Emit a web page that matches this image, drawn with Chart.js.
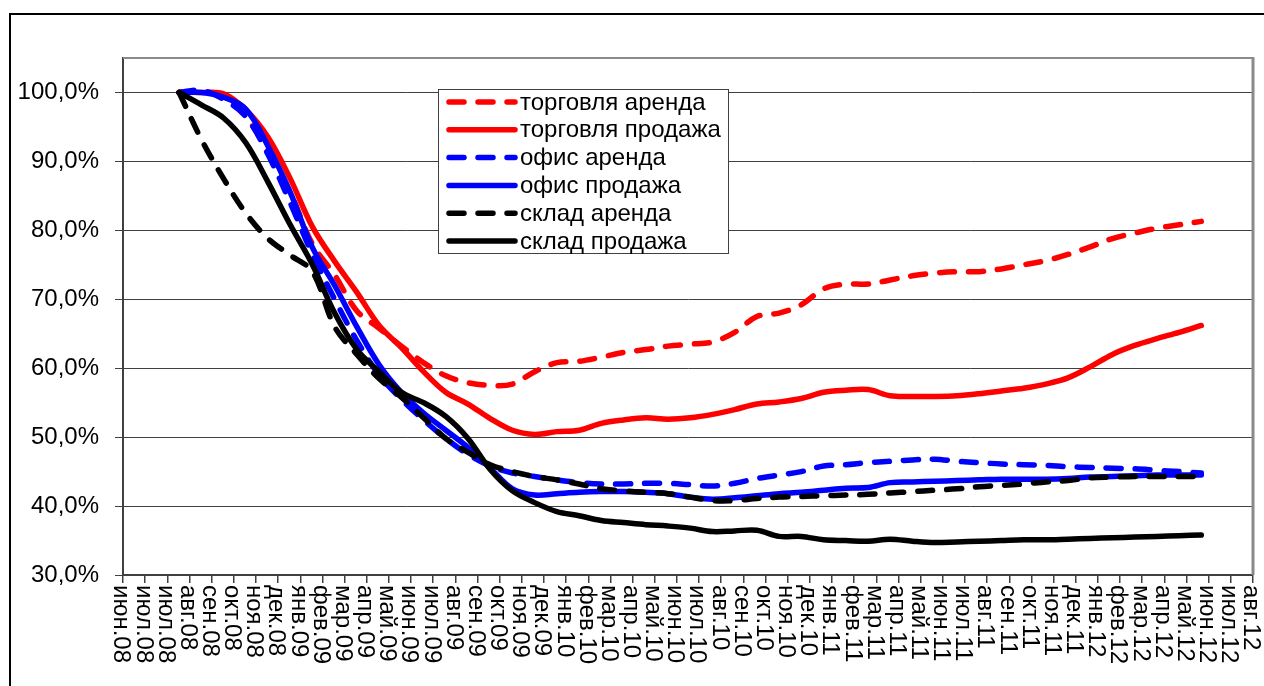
<!DOCTYPE html>
<html><head><meta charset="utf-8">
<script src="https://cdn.jsdelivr.net/npm/chart.js@4.4.1/dist/chart.umd.min.js"></script>
<style>html,body{margin:0;padding:0;background:#fff;overflow:hidden}canvas{display:block}</style>
</head><body>
<canvas id="c" width="1264" height="686"></canvas>
<script>
// x-axis tick labels (date axis, one tick every 30 days from 01.06.2008)
const tickLabels = ['июн.08','июл.08','июл.08','авг.08','сен.08','окт.08','ноя.08','дек.08','янв.09','фев.09','мар.09','апр.09','май.09','июн.09','июл.09','авг.09','сен.09','окт.09','ноя.09','дек.09','янв.10','фев.10','мар.10','апр.10','май.10','июн.10','июл.10','авг.10','сен.10','окт.10','ноя.10','дек.10','янв.11','фев.11','мар.11','апр.11','май.11','июн.11','июл.11','авг.11','сен.11','окт.11','ноя.11','дек.11','янв.12','фев.12','мар.12','апр.12','май.12','июн.12','июл.12','авг.12'];
const axisStartDate = '2008-06-01';
const tickStepDays = 30;
// observation period (monthly observations, авг.08 .. июн.12)
const obsFirstDate = '2008-08-16';
const obsLastDate = '2012-05-31';
const yTicks = [30, 40, 50, 60, 70, 80, 90, 100];
const seriesNames = ['торговля аренда','торговля продажа','офис аренда','офис продажа','склад аренда','склад продажа'];

const torgArenda = [100,100,99.5,96.5,91.5,85.5,78,73.5,68.3,65.8,63.2,60.8,58.9,57.9,57.5,57.7,59.5,60.8,61,61.6,62.3,62.7,63.2,63.5,63.8,65.2,67.5,68,69.2,71.5,72.2,72.2,72.8,73.4,73.8,74,74,74.4,75,75.6,76.5,77.6,78.8,79.6,80.3,80.8,81.3];
const torgProdazha = [100,100,99.8,97.5,93.5,87.5,80.5,75.5,71,66.2,63,59.5,56.5,54.8,52.7,51,50.4,50.8,51,52,52.5,52.8,52.6,52.8,53.3,54,54.8,55.1,55.6,56.5,56.8,56.9,56,55.9,55.9,56,56.3,56.7,57.1,57.7,58.6,60.2,62,63.3,64.3,65.2,66.2];
const ofisArenda = [100,100.3,99,96.5,91,84,76.5,70,64,59,55.5,52.5,49.8,47.5,45.8,44.8,44.3,43.8,43.4,43.2,43.2,43.3,43.3,43.1,42.9,43.3,44,44.5,45,45.8,46,46.3,46.5,46.7,46.8,46.5,46.3,46.1,46,45.9,45.7,45.6,45.5,45.4,45.2,45,44.8];
const ofisProdazha = [100,100,99.3,97.6,92.2,85.5,77.5,72,66,60.5,56.5,53.5,51,48.5,45.5,42.5,41.6,41.8,42,42.1,42.1,42,41.8,41.3,41,41.2,41.5,41.8,42,42.3,42.6,42.7,43.4,43.5,43.6,43.7,43.8,43.9,43.9,43.9,44,44.2,44.3,44.4,44.5,44.5,44.5];
const skladArenda = [100,93.2,87.5,82.5,78.8,76.4,74,66,62,58.5,55.8,52.8,49.8,47.8,46,45,44.3,43.8,43.2,42.5,42.2,42,41.8,41.3,40.8,40.8,41.1,41.3,41.4,41.5,41.6,41.7,41.9,42.1,42.3,42.5,42.8,43,43.2,43.5,43.7,44.1,44.2,44.3,44.3,44.3,44.3];
const skladProdazha = [100,98.2,96.3,92.7,87,80.8,75,68,62.7,59.5,56.5,55,53,49.8,45.3,42.2,40.5,39.2,38.6,37.9,37.6,37.3,37.1,36.8,36.3,36.4,36.5,35.6,35.6,35.1,35,34.9,35.2,34.9,34.7,34.8,34.9,35,35.1,35.1,35.2,35.3,35.4,35.5,35.6,35.7,35.8];

const seriesValues = [torgArenda, torgProdazha, ofisArenda, ofisProdazha, skladArenda, skladProdazha];
const seriesColors = ['#FF0000','#FF0000','#0000FF','#0000FF','#000000','#000000'];
const seriesDashed = [true,false,true,false,true,false];

const DAY = 86400000;
const dayOf = s => (Date.parse(s) - Date.parse(axisStartDate)) / DAY;
const d0 = dayOf(obsFirstDate), d1 = dayOf(obsLastDate);
function toPoints(arr){
  const n = arr.length;
  return arr.map((v,i) => ({x: d0 + (d1 - d0) * i / (n - 1), y: v}));
}
const DASH = [15, 14];
const FONT = 'Liberation Sans, Arial, sans-serif';

const datasets = seriesValues.map((arr, i) => ({
  label: seriesNames[i],
  data: toPoints(arr),
  borderColor: seriesColors[i],
  backgroundColor: seriesColors[i],
  borderWidth: 5.5,
  borderDash: seriesDashed[i] ? DASH : [],
  borderCapStyle: 'round',
  borderJoinStyle: 'round',
  pointRadius: 0,
  tension: 0.35,
  fill: false,
  order: seriesValues.length - i
}));

const framePlugin = {
  id: 'frame',
  beforeDraw(chart){
    const c = chart.ctx;
    c.save();
    c.fillStyle = '#fff';
    c.fillRect(0,0,chart.width,chart.height);
    c.strokeStyle = '#000';
    c.lineWidth = 2;
    c.strokeRect(10, 14, 1300, 720);
    c.restore();
  },
  beforeDatasetsDraw(chart){
    const a = chart.chartArea, c = chart.ctx;
    c.save();
    c.strokeStyle = '#8a8a8a';
    c.lineWidth = 2;
    c.beginPath(); c.moveTo(a.left, a.top); c.lineTo(a.right, a.top); c.stroke();
    c.lineWidth = 3;
    c.beginPath(); c.moveTo(a.right, a.top - 1); c.lineTo(a.right, a.bottom); c.stroke();
    c.restore();
  },
  afterDraw(chart){
    const c = chart.ctx, xs = chart.scales.x, a = chart.chartArea;
    // rotated x labels (reading top-down)
    c.save();
    c.fillStyle = '#000';
    c.font = '24px ' + FONT;
    c.textAlign = 'left';
    c.textBaseline = 'middle';
    xs.ticks.forEach((t, i) => {
      const px = xs.getPixelForValue(t.value);
      c.save();
      c.translate(px - 2, a.bottom + 10);
      c.rotate(Math.PI / 2);
      c.fillText(tickLabels[i], 0, 0);
      c.restore();
    });
    c.restore();
    // legend
    const bx = 438, by = 89, bw = 290, bh = 164;
    c.save();
    c.fillStyle = '#fff';
    c.fillRect(bx, by, bw, bh);
    c.strokeStyle = '#404040';
    c.lineWidth = 1;
    c.strokeRect(bx + 0.5, by + 0.5, bw, bh);
    chart.data.datasets.forEach((ds, i) => {
      const y = by + 13 + i * 27.8;
      c.strokeStyle = ds.borderColor;
      c.lineWidth = 5.5;
      c.lineCap = 'round';
      c.setLineDash(ds.borderDash);
      c.beginPath(); c.moveTo(449, y); c.lineTo(515, y); c.stroke();
      c.setLineDash([]);
      c.fillStyle = '#000';
      c.font = '24px ' + FONT;
      c.textBaseline = 'middle';
      c.textAlign = 'left';
      c.fillText(ds.label, 520, y + 1);
    });
    c.restore();
  }
};

new Chart(document.getElementById('c'), {
  type: 'line',
  data: { datasets },
  options: {
    responsive: false,
    animation: false,
    devicePixelRatio: 1,
    layout: { padding: { left: 10, top: 58, right: 11, bottom: 0 } },
    plugins: { legend: { display: false }, tooltip: { enabled: false } },
    scales: {
      x: {
        type: 'linear',
        min: 0,
        max: (tickLabels.length - 1) * tickStepDays,
        afterBuildTicks: s => { s.ticks = tickLabels.map((l, i) => ({ value: i * tickStepDays })); },
        afterFit: s => { s.height = 111; },
        grid: { drawOnChartArea: false, drawTicks: true, tickLength: 8, color: '#404040', lineWidth: 1.5 },
        border: { color: '#404040', width: 2 },
        ticks: { display: false }
      },
      y: {
        min: 30,
        max: 105,
        afterBuildTicks: s => { s.ticks = yTicks.map(v => ({ value: v })); },
        afterFit: s => { s.width = 113; },
        grid: { color: '#404040', lineWidth: 1, drawTicks: true, tickLength: 8 },
        border: { color: '#404040', width: 2 },
        ticks: {
          color: '#000',
          padding: 16,
          font: { family: FONT, size: 24 },
          callback: v => v.toFixed(1).replace('.', ',') + '%'
        }
      }
    }
  },
  plugins: [framePlugin]
});
</script>
</body></html>
